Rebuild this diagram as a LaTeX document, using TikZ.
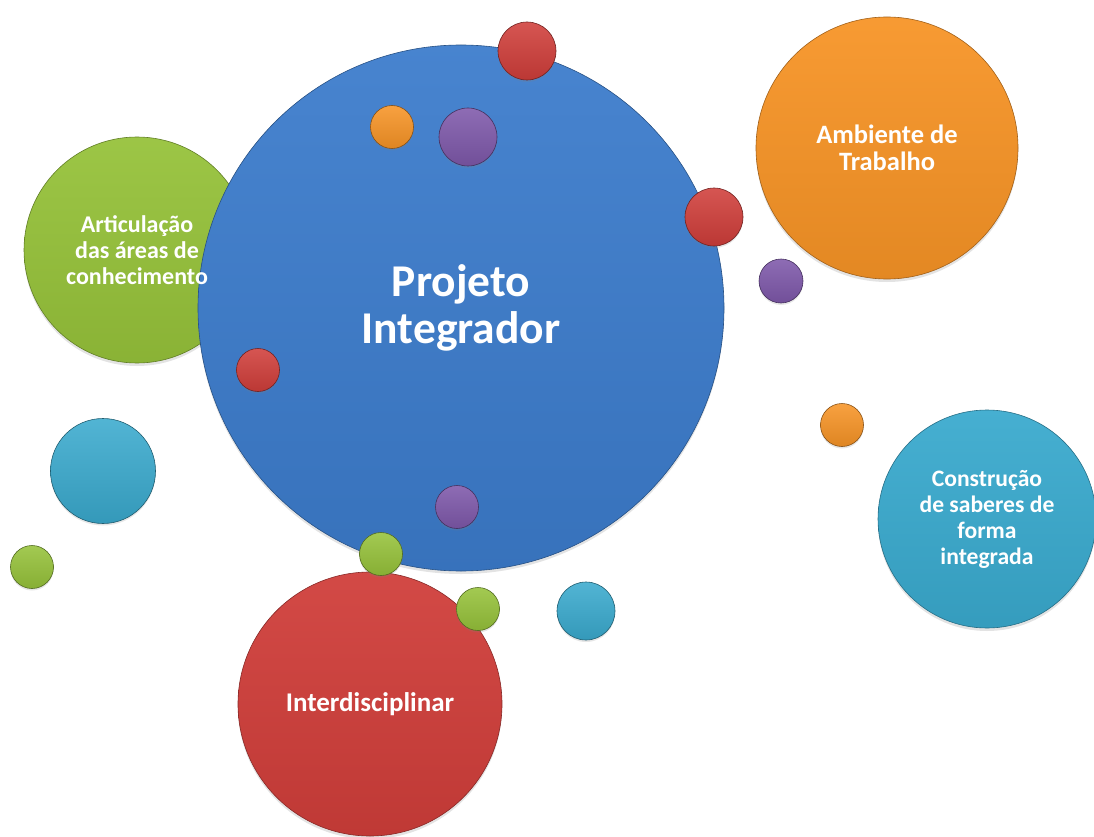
\documentclass[tikz,border=0pt]{standalone}
\usepackage{fontspec}
\setmainfont{Carlito}
\usetikzlibrary{shadows}
\definecolor{cblue}{RGB}{60,124,204}
\definecolor{cgreen}{RGB}{150,194,58}
\definecolor{corange}{RGB}{247,148,38}
\definecolor{ccyan}{RGB}{58,170,206}
\definecolor{cred}{RGB}{208,62,58}
\definecolor{cpurple}{RGB}{126,88,170}
\tikzset{
  bubble/.style={circle, inner sep=0pt,
    top color=#1!94!white, middle color=#1, bottom color=#1!92!black,
    draw=#1!65!black, line width=0.6pt,
    drop shadow={opacity=0.22, shadow xshift=0pt, shadow yshift=-3pt}},
  dot/.style={circle, inner sep=0pt,
    top color=#1!88!white, middle color=#1, bottom color=#1!90!black,
    draw=#1!55!black, line width=0.6pt,
    drop shadow={opacity=0.2, shadow xshift=0pt, shadow yshift=-2pt}},
  btext/.style={align=center, text=white, inner sep=0pt,
    font=\bfseries\fontsize{#1}{26}\selectfont},
}
\begin{document}
\begin{tikzpicture}[x=1pt,y=-1pt]
\useasboundingbox (0,0) rectangle (1094,837);
% large bubbles
\node[bubble=cgreen, minimum size=226pt] (art) at (137,250) {};
\node[bubble=cblue, minimum size=526pt] (pi) at (461,308) {};
\node[bubble=corange, minimum size=262pt] (amb) at (887,148) {};
\node[bubble=ccyan, minimum size=218pt] (con) at (987,519) {};
\node[bubble=cred, minimum size=264pt] (int) at (370,704) {};
% small bubbles
\node[dot=cred, minimum size=58pt] (r1) at (527,51) {};
\node[dot=corange, minimum size=43pt] (o1) at (392,127) {};
\node[dot=cpurple, minimum size=58pt] (p1) at (468,137) {};
\node[dot=cred, minimum size=58pt] (r2) at (714,217) {};
\node[dot=cpurple, minimum size=44pt] (p2) at (781,281) {};
\node[dot=cred, minimum size=43pt] (r3) at (258,370) {};
\node[dot=corange, minimum size=43pt] (o2) at (842,425) {};
\node[dot=ccyan, minimum size=105pt] (c1) at (103,471) {};
\node[dot=cgreen, minimum size=43pt] (g1) at (32,567) {};
\node[dot=cpurple, minimum size=43pt] (p3) at (457,507) {};
\node[dot=cgreen, minimum size=43pt] (g2) at (381,554) {};
\node[dot=cgreen, minimum size=43pt] (g3) at (478,609) {};
\node[dot=ccyan, minimum size=58pt] (c2) at (586,611) {};
% texts
\node[btext=24] (tart) at (art.center) {Articulação\\das áreas de\\conhecimento};
\node[btext=45.5, font=\bfseries\fontsize{45.5}{47}\selectfont] (tpi) at (pi.center) {Projeto\\Integrador};
\node[btext=26.5, font=\bfseries\fontsize{26.5}{27}\selectfont] (tamb) at (amb.center) {Ambiente de\\Trabalho};
\node[btext=23.6] (tcon) at (con.center) {Construção\\de saberes de\\forma\\integrada};
\node[btext=27] (tint) at (int.center) {Interdisciplinar};
\end{tikzpicture}
\end{document}
